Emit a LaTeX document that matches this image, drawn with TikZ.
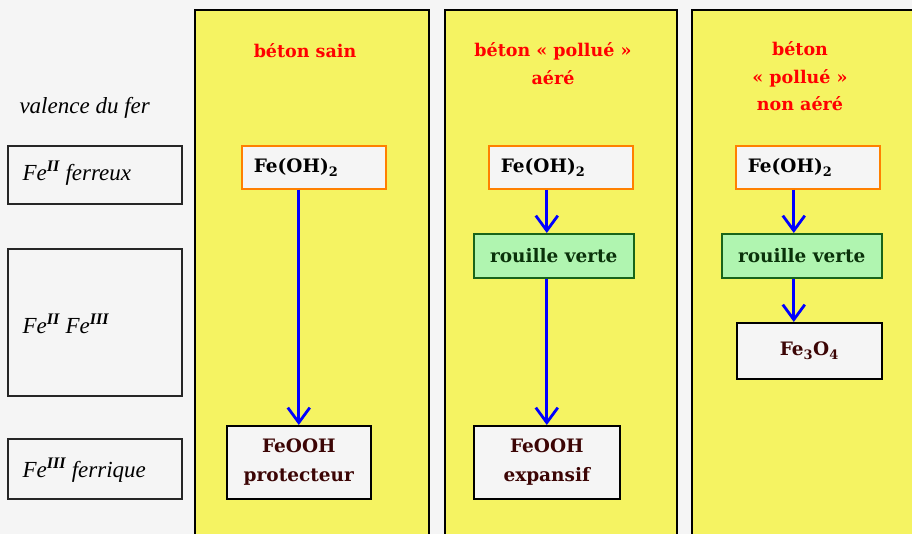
\documentclass[tikz,border=0pt]{standalone}
\usepackage{fontspec}
\setmainfont{DejaVu Serif}
\newfontfamily\valenceFont{Liberation Serif}
\usetikzlibrary{positioning,arrows.meta}
\definecolor{backColor}{RGB}{245,245,245}
\definecolor{panelColor}{RGB}{245,243,98}
\definecolor{orangeBorder}{RGB}{255,128,0}
\definecolor{greenFill}{RGB}{176,245,176}
\definecolor{greenBorder}{RGB}{25,100,25}
\definecolor{greenText}{RGB}{10,50,10}
\definecolor{brownText}{RGB}{60,5,5}
\tikzstyle{pixels} = [x = 1pt, y = -1pt]
\tikzstyle{panelStyle} = [draw=black, fill=panelColor, line width=1.8pt]
\tikzstyle{valenceBox} = [draw=black!85, fill=backColor, line width=1.6pt, anchor=north west, inner sep=0pt]
\tikzstyle{valenceText} = [anchor=west, font=\valenceFont\itshape\fontsize{23}{26}\selectfont]
\tikzstyle{titleText} = [text=red, align=center, font=\bfseries\fontsize{17.5}{27.5}\selectfont]
\tikzstyle{boxText} = [font=\bfseries\fontsize{18.5}{29}\selectfont, align=center, anchor=north west]
\tikzstyle{hydroxBox} = [boxText, draw=orangeBorder, fill=backColor, line width=1.6pt, inner xsep=12pt, text width=120pt, align=left, minimum height=43pt]
\tikzstyle{greenBox} = [boxText, draw=greenBorder, fill=greenFill, text=greenText, line width=1.6pt, minimum height=44pt]
\tikzstyle{oxideBox} = [boxText, draw=black, fill=backColor, text=brownText, line width=1.6pt]
\tikzstyle{flowArrow} = [draw=blue, line width=3.2pt, -{Straight Barb[length=15pt, width=22pt, line width=2.8pt]}]
\newcommand{\feII}{Fe\textsuperscript{\textbf{II}}}
\newcommand{\feIII}{Fe\textsuperscript{\textbf{III}}}
\newcommand{\hydrox}{Fe(OH)\textsubscript{2}}

\begin{document}
\begin{tikzpicture}[pixels]
  \useasboundingbox (0,0) rectangle (912,534);
  \fill [backColor] (0,0) rectangle (912,534);

  % valence column
  \node [valenceText] (valence) at (16,108) {valence du fer};
  \node [valenceBox, minimum width=174pt, minimum height=58pt] (ferreuxBox) at (7,145) {};
  \node [valenceText] (ferreux) at (19,173) {\feII{} ferreux};
  \node [valenceBox, minimum width=174pt, minimum height=147pt] (mixteBox) at (7,248) {};
  \node [valenceText] (mixte) at (19,324) {\feII{} \feIII};
  \node [valenceBox, minimum width=174pt, minimum height=60pt] (ferriqueBox) at (7,438) {};
  \node [valenceText] (ferrique) at (19,470) {\feIII{} ferrique};

  % panels
  \filldraw [panelStyle] (195,10) rectangle (429,545);
  \filldraw [panelStyle] (445,10) rectangle (677,545);
  \filldraw [panelStyle] (692,10) rectangle (925,545);

  % beton sain
  \node [titleText] (titleA) at (305,51) {béton sain};
  \node [hydroxBox] (ohA) at (241,145) {\hydrox};
  \node [oxideBox, minimum width=144pt, minimum height=73pt] (feoohA) at (226,425) {FeOOH\\protecteur};
  \draw [flowArrow] (ohA.south -| feoohA.north) -- (feoohA.north);

  % beton pollue aere
  \node [titleText, anchor=north] (titleB) at (553,39) {béton «~pollué~»\\aéré};
  \node [hydroxBox] (ohB) at (488,145) {\hydrox};
  \node [greenBox, minimum width=160pt] (rouilleB) at (473,233) {rouille verte};
  \node [oxideBox, minimum width=146pt, minimum height=73pt] (feoohB) at (473,425) {FeOOH\\expansif};
  \draw [flowArrow] (ohB.south -| feoohB.north) -- (rouilleB.north -| feoohB.north);
  \draw [flowArrow] (rouilleB.south -| feoohB.north) -- (feoohB.north);

  % beton pollue non aere
  \node [titleText, anchor=north] (titleC) at (800,38) {béton\\«~pollué~»\\non aéré};
  \node [hydroxBox] (ohC) at (735,145) {\hydrox};
  \node [greenBox, minimum width=160pt] (rouilleC) at (721,233) {rouille verte};
  \node [oxideBox, minimum width=145pt, minimum height=56pt] (magnetite) at (736,322) {Fe\textsubscript{3}O\textsubscript{4}};
  \draw [flowArrow] ([xshift=-8pt]rouilleC.north |- ohC.south) -- ([xshift=-8pt]rouilleC.north);
  \draw [flowArrow] ([xshift=-8pt]rouilleC.south) -- ([xshift=-8pt]rouilleC.south |- magnetite.north);
\end{tikzpicture}
\end{document}
